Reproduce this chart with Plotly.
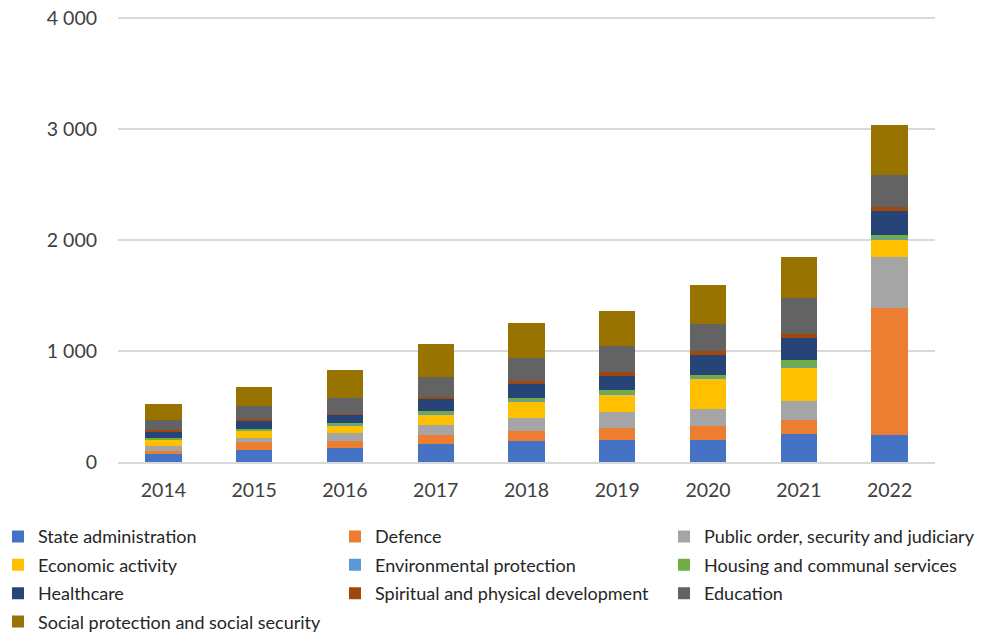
import plotly.graph_objects as go

years = ["2014", "2015", "2016", "2017", "2018", "2019", "2020", "2021", "2022"]

state_admin = [70, 111, 129, 162, 189, 200, 200, 252, 243]
defence = [32, 67, 63, 81, 93, 111, 123, 129, 1142]
public_order = [40, 41, 69, 87, 117, 140, 159, 171, 461]
economic = [59, 67, 72, 95, 144, 159, 270, 297, 159]
environment = [5, 2, 3, 12, 9, 5, 5, 5, 5]
housing = [12, 10, 15, 23, 22, 34, 30, 64, 34]
healthcare = [59, 78, 77, 111, 129, 129, 174, 204, 222]
spiritual = [13, 15, 9, 15, 30, 30, 41, 36, 30]
education = [93, 111, 138, 180, 204, 240, 246, 317, 288]
social = [144, 173, 254, 294, 315, 317, 351, 375, 458]

series = [
    ("State administration", state_admin, "#4472C4", "legend"),
    ("Defence", defence, "#ED7D31", "legend2"),
    ("Public order, security and judiciary", public_order, "#A5A5A5", "legend3"),
    ("Economic activity", economic, "#FFC000", "legend"),
    ("Environmental protection", environment, "#5B9BD5", "legend2"),
    ("Housing and communal services", housing, "#70AD47", "legend3"),
    ("Healthcare", healthcare, "#264478", "legend"),
    ("Spiritual and physical development", spiritual, "#9E480E", "legend2"),
    ("Education", education, "#636363", "legend3"),
    ("Social protection and social security", social, "#997300", "legend"),
]

fig = go.Figure()
for name, vals, color, lg in series:
    fig.add_trace(go.Bar(name=name, x=years, y=vals, legend=lg, legendgroup=name,
                         marker=dict(color=color, line=dict(width=0))))

legend_common = dict(orientation="v", y=-0.126, yanchor="top", xanchor="left",
                     tracegroupgap=2, font=dict(size=18, color="#262626", family="Lato"),
                     traceorder="grouped", bgcolor="rgba(0,0,0,0)")

fig.update_layout(
    barmode="stack",
    bargap=0.6,
    width=986,
    height=633,
    margin=dict(l=118, r=51, t=16, b=171, autoexpand=False),
    plot_bgcolor="white",
    paper_bgcolor="white",
    separators=". ",
    font=dict(family="Lato", size=19.5, color="#404040"),
    yaxis=dict(range=[0, 4020], tickvals=[0, 1000, 2000, 3000, 4000], tickformat=",",
               showgrid=True, gridcolor="#D9D9D9", gridwidth=2, zeroline=False,
               showline=False, ticks="", ticklabelstandoff=20),
    xaxis=dict(showline=True, linecolor="#D9D9D9", linewidth=2, ticks="", ticklabelstandoff=10),
    legend=dict(x=-0.1469, **legend_common),
    legend2=dict(x=0.2656, **legend_common),
    legend3=dict(x=0.6683, **legend_common),
)

fig.write_html("out.html", config={"displayModeBar": False},
               post_script="document.body.style.margin='0';")
